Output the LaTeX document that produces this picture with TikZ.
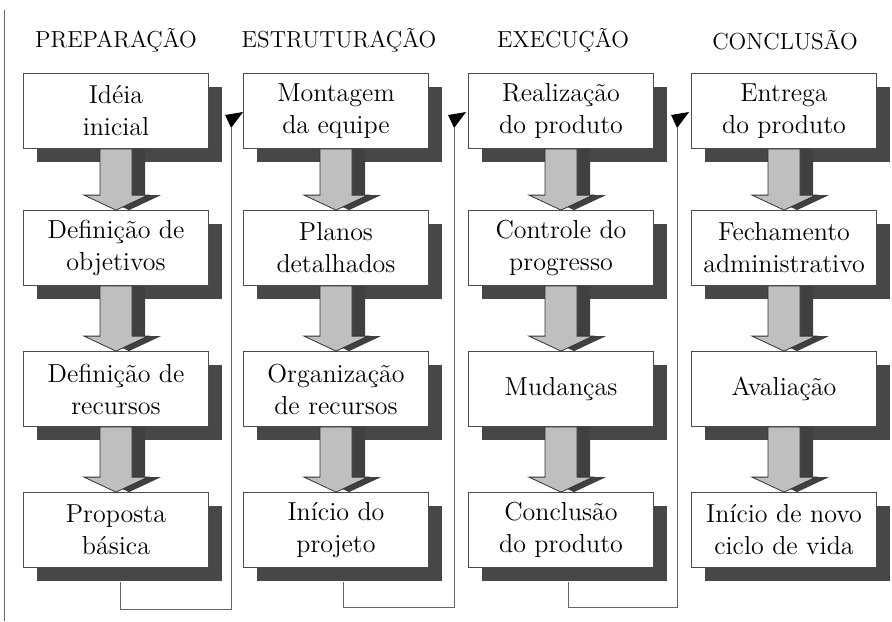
\documentclass[tikz,border=0pt]{standalone}
\usepackage{tikz}
\usetikzlibrary{calc, shadows}

\tikzset{
  stagebox/.style={draw=black!70, line width=0.4pt, fill=white,
    minimum width=92.5pt, minimum height=37.5pt, inner sep=2pt,
    align=center, font=\fontsize{13}{16}\selectfont,
    general shadow={shadow xshift=6.5pt, shadow yshift=-6.5pt, fill=black!72}},
  phasetitle/.style={font=\fontsize{11.6}{13}\selectfont},
  arrowbody/.style={fill=black!25, draw=black!80, line width=0.4pt},
  arrowshadow/.style={fill=black!75},
  loopline/.style={draw=black!60, line width=0.5pt},
}

% block arrow from the bottom of one box to the top of the next
\newcommand{\flowarrow}[2]{%
  \foreach \dx/\sty in {13/arrowshadow, 0/arrowbody}
    \path[\sty] ($(#1.south)+(\dx-16,0)$) -- ($(#2.north)+(\dx-16,-15)$)
      -- ($(#2.north)+(\dx-32,-15)$) -- ($(#2.north)+(\dx,0)$)
      -- ($(#2.north)+(\dx+32,-15)$) -- ($(#2.north)+(\dx+16,-15)$)
      -- ($(#1.south)+(\dx+16,0)$) -- cycle;
}

\begin{document}
\begin{tikzpicture}[x=0.5pt, y=-0.5pt]
  \useasboundingbox (0,0) rectangle (892,621);
  \draw[loopline] (4,10) -- (4,621);

  % phases
  \node[phasetitle] (prep) at (116,40) {PREPARAÇÃO};
  \node[phasetitle] (estr) at (339,40) {ESTRUTURAÇÃO};
  \node[phasetitle] (exec) at (563,40) {EXECUÇÃO};
  \node[phasetitle] (conc) at (785,40) {CONCLUSÃO};

  % steps
  \node[stagebox] (p1) at (116,111) {Idéia\\inicial};
  \node[stagebox] (p2) at (116,248) {Definição de\\objetivos};
  \node[stagebox] (p3) at (116,389) {Definição de\\recursos};
  \node[stagebox] (p4) at (116,530) {Proposta\\básica};

  \node[stagebox] (s1) at (336,111) {Montagem\\da equipe};
  \node[stagebox] (s2) at (336,248) {Planos\\detalhados};
  \node[stagebox] (s3) at (336,389) {Organização\\de recursos};
  \node[stagebox] (s4) at (336,530) {Início do\\projeto};

  \node[stagebox] (e1) at (561,111) {Realização\\do produto};
  \node[stagebox] (e2) at (561,248) {Controle do\\progresso};
  \node[stagebox] (e3) at (561,389) {Mudanças};
  \node[stagebox] (e4) at (561,530) {Conclusão\\do produto};

  \node[stagebox] (c1) at (784,111) {Entrega\\do produto};
  \node[stagebox] (c2) at (784,248) {Fechamento\\administrativo};
  \node[stagebox] (c3) at (784,389) {Avaliação};
  \node[stagebox] (c4) at (784,530) {Início de novo\\ciclo de vida};

  \flowarrow{p1}{p2} \flowarrow{p2}{p3} \flowarrow{p3}{p4}
  \flowarrow{s1}{s2} \flowarrow{s2}{s3} \flowarrow{s3}{s4}
  \flowarrow{e1}{e2} \flowarrow{e2}{e3} \flowarrow{e3}{e4}
  \flowarrow{c1}{c2} \flowarrow{c2}{c3} \flowarrow{c3}{c4}

  % links to the next phase
  \coordinate (r1) at ($(s1.west)+(-12,17)$);
  \coordinate (r2) at ($(e1.west)+(-14,17)$);
  \coordinate (r3) at ($(c1.west)+(-14,17)$);
  \draw[loopline] ($(p4.south)+(4,14)$) -- ++(0,28) -| (r1);
  \draw[loopline] ($(s4.south)+(7,14)$) -- ++(0,26) -| (r2);
  \draw[loopline] ($(e4.south)+(7,14)$) -- ++(0,26) -| (r3);
  \foreach \r in {r1, r2, r3}
    \fill ($(\r)+(-6,-13)$) -- ($(\r)+(12,-16)$) -- (\r) -- cycle;
\end{tikzpicture}
\end{document}
